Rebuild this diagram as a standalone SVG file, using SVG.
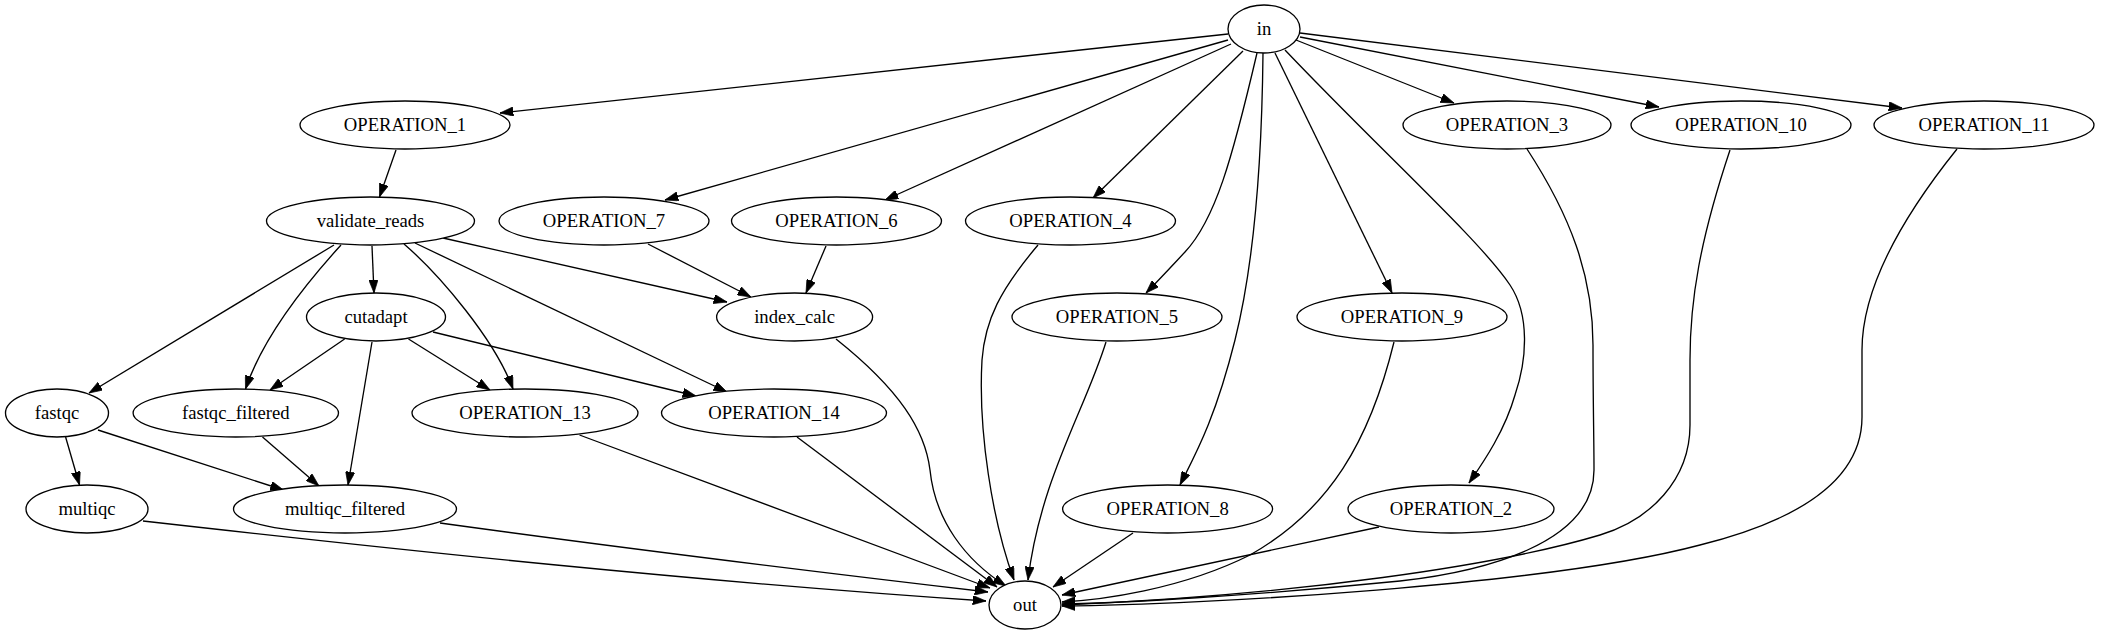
<svg xmlns="http://www.w3.org/2000/svg" width="2117" height="635" viewBox="0 0 2117 635">
<style>
.n ellipse{fill:#fff;stroke:#000;stroke-width:1.33}
.n text{font-family:"Liberation Serif","Times New Roman",serif;font-size:18.67px;text-anchor:middle;fill:#000}
.e path{fill:none;stroke:#000;stroke-width:1.33;marker-end:url(#ah)}
</style>
<defs>
<marker id="ah" viewBox="0 0 10 7" refX="10" refY="3.5" markerWidth="13.3" markerHeight="9.3" markerUnits="userSpaceOnUse" orient="auto">
<path d="M0,0 L10,3.5 L0,7 z" fill="#000" stroke="#000" stroke-width="0.5"/>
</marker>
</defs>
<rect width="2117" height="635" fill="#fff"/>
<g id="edges" class="e">
<path d="M1228,34 L500,113"/>
<path d="M1228,40 L665,200"/>
<path d="M1231,44 L885,200"/>
<path d="M1243,51 L1093,198"/>
<path d="M1257,53 C1232,160 1215,220 1185,252 C1170,268 1158,281 1146,293"/>
<path d="M1263,53 C1262,150 1255,260 1235,340 C1215,420 1195,455 1180,485"/>
<path d="M1275,53 L1392,293"/>
<path d="M1285,50 C1380,150 1480,240 1510,285 C1530,315 1527,360 1515,395 C1505,430 1485,460 1469,483"/>
<path d="M1296,40 L1454,103"/>
<path d="M1300,37 L1659,107"/>
<path d="M1300,33 L1902,108"/>
<path d="M396,150 L379.5,197"/>
<path d="M334,245 L89,393"/>
<path d="M341,245 C300,290 262,340 245.5,389"/>
<path d="M372,246 L374,293"/>
<path d="M404,244 C440,275 495,340 513,389"/>
<path d="M415,243 L727,392"/>
<path d="M443,238 L727,302"/>
<path d="M648,244 L751,297"/>
<path d="M826,246 L806,293"/>
<path d="M344.6,339 L270,390"/>
<path d="M372,342 L348,485"/>
<path d="M408.5,339 L490,390"/>
<path d="M433,332 L696,396"/>
<path d="M65.6,437 L79.5,485"/>
<path d="M98,430 L283.5,490"/>
<path d="M262.5,437 L319,486"/>
<path d="M143,521 C400,550 700,582 986,601"/>
<path d="M440,523 C600,545 800,570 988,592"/>
<path d="M579.5,435 L990,588"/>
<path d="M797,437 L997,587"/>
<path d="M836,339 C900,390 925,430 930,470 C935,520 965,560 1006,586"/>
<path d="M1038,245 C1000,290 985,320 982,360 C978,430 992,520 1014,580"/>
<path d="M1106,342 C1085,410 1040,480 1028,580"/>
<path d="M1133,533 L1053,587"/>
<path d="M1379,527 L1062,595"/>
<path d="M1394,342 C1370,440 1330,510 1250,555 C1180,590 1100,600 1062,602"/>
<path d="M1527,149 C1570,215 1593,275 1593,345 C1593,400 1594,440 1594,470 C1594,545 1480,572 1400,581 C1250,596 1120,603 1062,604"/>
<path d="M1730,150 C1700,240 1690,300 1690,360 L1690,425 C1690,480 1650,520 1600,535 C1500,565 1300,595 1062,605"/>
<path d="M1957,149 C1900,220 1862,290 1862,350 L1862,417 C1862,480 1800,520 1700,545 C1550,585 1200,605 1062,606"/>
</g>
<g id="in" class="n"><ellipse cx="1264" cy="29" rx="36" ry="24"/><text x="1264" y="35">in</text></g>
<g id="OPERATION_1" class="n"><ellipse cx="405" cy="125" rx="105" ry="24"/><text x="405" y="131">OPERATION_1</text></g>
<g id="OPERATION_3" class="n"><ellipse cx="1507" cy="125" rx="104" ry="24"/><text x="1507" y="131">OPERATION_3</text></g>
<g id="OPERATION_10" class="n"><ellipse cx="1741" cy="125" rx="110" ry="24"/><text x="1741" y="131">OPERATION_10</text></g>
<g id="OPERATION_11" class="n"><ellipse cx="1984" cy="125" rx="110" ry="24"/><text x="1984" y="131">OPERATION_11</text></g>
<g id="validate_reads" class="n"><ellipse cx="370.5" cy="221" rx="104" ry="24"/><text x="370.5" y="227">validate_reads</text></g>
<g id="OPERATION_7" class="n"><ellipse cx="604" cy="221" rx="105" ry="24"/><text x="604" y="227">OPERATION_7</text></g>
<g id="OPERATION_6" class="n"><ellipse cx="836.5" cy="221" rx="105" ry="24"/><text x="836.5" y="227">OPERATION_6</text></g>
<g id="OPERATION_4" class="n"><ellipse cx="1070.5" cy="221" rx="105" ry="24"/><text x="1070.5" y="227">OPERATION_4</text></g>
<g id="cutadapt" class="n"><ellipse cx="376" cy="317" rx="69.5" ry="24"/><text x="376" y="323">cutadapt</text></g>
<g id="index_calc" class="n"><ellipse cx="794.6" cy="317" rx="78" ry="24"/><text x="794.6" y="323">index_calc</text></g>
<g id="OPERATION_5" class="n"><ellipse cx="1117" cy="317" rx="105" ry="24"/><text x="1117" y="323">OPERATION_5</text></g>
<g id="OPERATION_9" class="n"><ellipse cx="1402" cy="317" rx="105" ry="24"/><text x="1402" y="323">OPERATION_9</text></g>
<g id="fastqc" class="n"><ellipse cx="57" cy="413" rx="51.5" ry="24"/><text x="57" y="419">fastqc</text></g>
<g id="fastqc_filtered" class="n"><ellipse cx="235.8" cy="413" rx="102.7" ry="24"/><text x="235.8" y="419">fastqc_filtered</text></g>
<g id="OPERATION_13" class="n"><ellipse cx="525" cy="413" rx="113" ry="24"/><text x="525" y="419">OPERATION_13</text></g>
<g id="OPERATION_14" class="n"><ellipse cx="774" cy="413" rx="112.5" ry="24"/><text x="774" y="419">OPERATION_14</text></g>
<g id="multiqc" class="n"><ellipse cx="87" cy="509" rx="61" ry="24"/><text x="87" y="515">multiqc</text></g>
<g id="multiqc_filtered" class="n"><ellipse cx="345" cy="509" rx="111.5" ry="24"/><text x="345" y="515">multiqc_filtered</text></g>
<g id="OPERATION_8" class="n"><ellipse cx="1167.6" cy="509" rx="105" ry="24"/><text x="1167.6" y="515">OPERATION_8</text></g>
<g id="OPERATION_2" class="n"><ellipse cx="1451" cy="509" rx="103" ry="24"/><text x="1451" y="515">OPERATION_2</text></g>
<g id="out" class="n"><ellipse cx="1025" cy="605" rx="36" ry="24"/><text x="1025" y="611">out</text></g>
</svg>
